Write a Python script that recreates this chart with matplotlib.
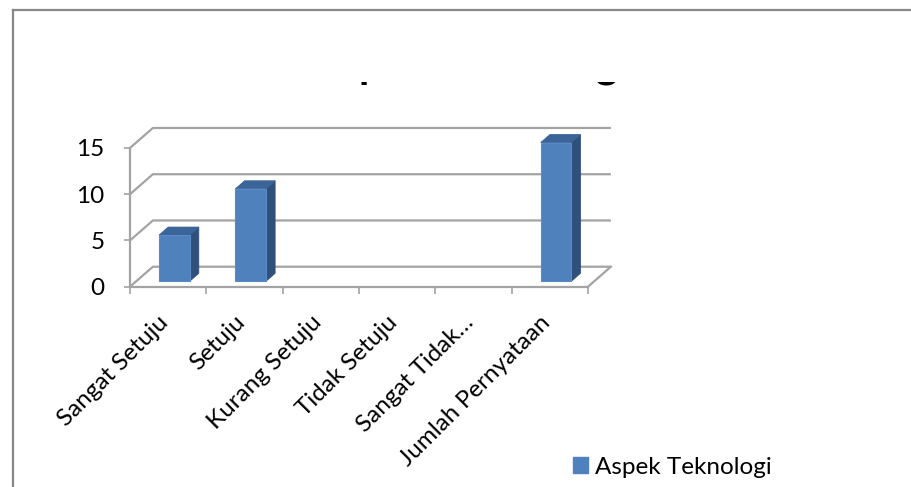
import matplotlib
matplotlib.use("Agg")
import matplotlib.pyplot as plt
from matplotlib.patches import Polygon, Rectangle, Patch
from matplotlib.lines import Line2D
from matplotlib.transforms import Bbox, ScaledTranslation

# ---- data -------------------------------------------------------------
categories = ["Sangat Setuju", "Setuju", "Kurang Setuju", "Tidak Setuju",
              "Sangat Tidak\u2026", "Jumlah Pernyataan"]
values = [5, 10, 0, 0, 0, 15]
y_ticks = [0, 5, 10, 15]
series_name = "Aspek Teknologi"
chart_title = "Aspek Teknologi"

# ---- style ------------------------------------------------------------
FONT = ["Lato", "DejaVu Sans"]
plt.rcParams["font.family"] = FONT
LABEL_SIZE = 17.5
GRID = "#a3a3a3"
FRONT = "#4f81bd"
SIDE = "#30507c"
TOP = "#3b6498"

W, H, DPI = 912, 487, 100
fig = plt.figure(figsize=(W / DPI, H / DPI), dpi=DPI)

# axes box: x = category units, y = value units
x_max, y_max = 6.4, 17.5
px_per_cat, px_per_val = 76.33, 9.25
left_px, bottom_px = 130, 487 - 286.7
ax = fig.add_axes([left_px / W, bottom_px / H,
                   x_max * px_per_cat / W, y_max * px_per_val / H])
ax.set_xlim(0, x_max)
ax.set_ylim(0, y_max)
ax.patch.set_visible(False)

# oblique depth of the 3-D box, in data units
DX, DY = 0.30, 2.16
n = len(categories)

# walls: left-wall diagonals + back-wall horizontals
for v in y_ticks:
    ax.plot([0, DX, n + DX], [v, v + DY, v + DY], color=GRID, lw=1.6,
            solid_capstyle="butt", zorder=1, clip_on=False)
# floor right edge
ax.plot([n, n + DX], [0, DY], color=GRID, lw=1.6, zorder=1, clip_on=False)

# spines as the front axes
for s in ("top", "right"):
    ax.spines[s].set_visible(False)
for s in ("left", "bottom"):
    ax.spines[s].set_color(GRID)
    ax.spines[s].set_linewidth(1.6)
    ax.spines[s].set_zorder(1)
ax.spines["left"].set_bounds(0, max(y_ticks))
ax.spines["bottom"].set_bounds(0, n)

ax.set_yticks(y_ticks)
ax.set_yticklabels([str(t) for t in y_ticks])
ax.tick_params(axis="y", length=4.5, width=1.2, color=GRID, pad=14,
               labelsize=LABEL_SIZE, labelcolor="black")

ax.set_xticks(range(n + 1))
ax.set_xticklabels([])
ax.tick_params(axis="x", which="major", length=5, width=1.2, color=GRID)
ax.set_xticks([i + 0.5 for i in range(n)], minor=True)
ax.set_xticklabels(categories, minor=True, rotation=45, ha="right",
                   va="top", rotation_mode="anchor")
ax.tick_params(axis="x", which="minor", length=0, pad=18,
               labelsize=LABEL_SIZE, labelcolor="black")
shift = ScaledTranslation(-7.5 / 72, 0, fig.dpi_scale_trans)
for lbl in ax.get_xticklabels(minor=True):
    lbl.set_transform(lbl.get_transform() + shift)

# 3-D columns
f0, f1 = 0.27, 0.67          # front / back depth fraction of each column
bw = 0.40                    # column width in category units
for i, v in enumerate(values):
    if v <= 0:
        continue
    xc = i + 0.5
    xl = xc - bw / 2 + f0 * DX
    xr = xc + bw / 2 + f0 * DX
    y0 = f0 * DY
    ddx, ddy = (f1 - f0) * DX, (f1 - f0) * DY
    side = Polygon([(xr, y0), (xr + ddx, y0 + ddy), (xr + ddx, y0 + ddy + v),
                    (xr, y0 + v)], closed=True, fc=SIDE, ec=SIDE, lw=0.6,
                   zorder=3, clip_on=False)
    top = Polygon([(xl, y0 + v), (xr, y0 + v), (xr + ddx, y0 + v + ddy),
                   (xl + ddx, y0 + v + ddy)], closed=True, fc=TOP, ec=TOP,
                  lw=0.6, zorder=3, clip_on=False)
    front = Rectangle((xl, y0), xr - xl, v, fc=FRONT, ec="#5b8bc6", lw=0.8,
                      zorder=4, clip_on=False)
    ax.add_patch(side)
    ax.add_patch(top)
    ax.add_patch(front)

# legend
fig.legend(handles=[Patch(fc=FRONT, ec=FRONT)], labels=[series_name],
           loc="center left", bbox_to_anchor=(573 / W, 1 - 467 / H),
           frameon=False, fontsize=LABEL_SIZE, borderpad=0, borderaxespad=0,
           handlelength=0.6, handleheight=0.6, handletextpad=0.3)

# title, hidden by the plot area except for the descender tips
t = fig.text(470 / W, 1 - 77 / H, chart_title, ha="center", va="baseline",
             fontsize=31, fontweight="bold", color="black")
t.set_clip_box(Bbox.from_extents(0, H - 86, W, H - 82))
t.set_clip_on(True)

# chart area border (top and left edges)
border = dict(color="#888888", lw=1.6, transform=fig.transFigure,
              solid_capstyle="projecting")
fig.add_artist(Line2D([13 / W, 1.0], [1 - 10 / H, 1 - 10 / H], **border))
fig.add_artist(Line2D([13 / W, 13 / W], [1 - 10 / H, 0.0], **border))

fig.savefig("out.png", dpi=DPI, facecolor="white")
